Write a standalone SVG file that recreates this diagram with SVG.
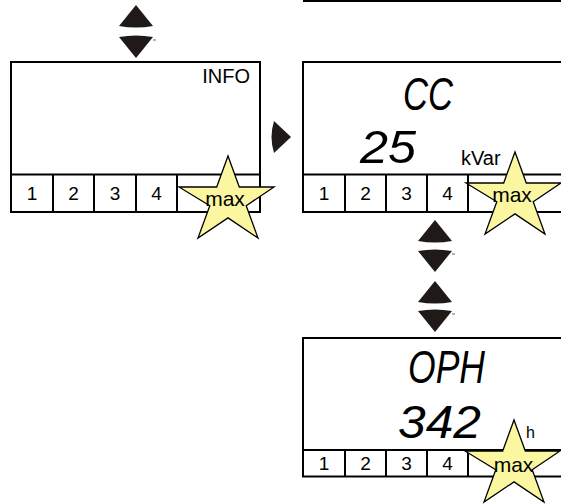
<svg xmlns="http://www.w3.org/2000/svg" xmlns:xlink="http://www.w3.org/1999/xlink" width="561" height="504" viewBox="0 0 561 504">
  <style>
    .frame { fill: #ffffff; stroke: #000000; stroke-width: 2; }
    .rule { stroke: #000000; stroke-width: 2; fill: none; }
    .key { font-family: "Liberation Sans", Arial, sans-serif; font-size: 19px; fill: #000000; text-anchor: middle; }
    .lbl { font-family: "Liberation Sans", Arial, sans-serif; font-size: 20px; fill: #000000; }
    .mx { font-family: "Liberation Sans", Arial, sans-serif; font-size: 21px; fill: #000000; text-anchor: middle; }
    .seg { font-family: "Liberation Sans", Arial, sans-serif; font-style: italic; font-size: 46px; fill: #000000; }
    .star { fill: #fbf7a1; stroke: #000000; stroke-width: 1.3; stroke-linejoin: miter; }
    .arrow { fill: #1f1a17; }
    .tick { stroke: #6b6b6b; stroke-width: 1; }
  </style>
  <defs>
    <!-- five-point star, apex at origin -->
    <polygon id="star" class="star" points="0,0 11.3,31 46,31 18.2,49.7 30,82 0,61.9 -30,82 -18.2,49.7 -49,31 -11.3,31"/>
    <!-- navigation arrow heads, tip at origin -->
    <path id="up" class="arrow" d="M0,0 L17,21 Q0,24 -17,21 Z"/>
    <path id="down" class="arrow" d="M0,0 L17,-21 Q0,-24 -17,-21 Z"/>
  </defs>

  <!-- edge of the previous display, above -->
  <line class="rule" x1="303" y1="1" x2="561" y2="1"/>

  <!-- connectors: navigation arrows -->
  <g id="connectors">
    <use xlink:href="#up" x="136" y="5"/>
    <use xlink:href="#down" x="136" y="58"/>
    <line class="tick" x1="153" y1="40" x2="156" y2="40"/>

    <path class="arrow" d="M291,137 L274,121 Q269,137 274,153 Z"/>

    <use xlink:href="#up" x="435" y="220"/>
    <use xlink:href="#down" x="435" y="272"/>
    <line class="tick" x1="452" y1="254" x2="455" y2="254"/>
    <use xlink:href="#up" x="435" y="281"/>
    <use xlink:href="#down" x="435" y="332"/>
    <line class="tick" x1="452" y1="314" x2="455" y2="314"/>
  </g>

  <!-- INFO display -->
  <g id="info">
    <rect class="frame" x="11" y="62" width="249" height="150"/>
    <line class="rule" x1="11" y1="174.5" x2="260" y2="174.5"/>
    <line class="rule" x1="53" y1="174.5" x2="53" y2="212"/>
    <line class="rule" x1="94" y1="174.5" x2="94" y2="212"/>
    <line class="rule" x1="136" y1="174.5" x2="136" y2="212"/>
    <line class="rule" x1="177" y1="174.5" x2="177" y2="212"/>
    <text class="lbl" x="250" y="83" text-anchor="end">INFO</text>
    <text class="key" x="32" y="200">1</text>
    <text class="key" x="73.5" y="200">2</text>
    <text class="key" x="115" y="200">3</text>
    <text class="key" x="156.5" y="200">4</text>
    <use xlink:href="#star" x="228" y="156"/>
    <text class="mx" x="225" y="206">max</text>
  </g>

  <!-- CC display -->
  <g id="cc">
    <rect class="frame" x="303" y="62" width="262" height="150"/>
    <line class="rule" x1="303" y1="174.5" x2="565" y2="174.5"/>
    <line class="rule" x1="345" y1="174.5" x2="345" y2="212"/>
    <line class="rule" x1="386" y1="174.5" x2="386" y2="212"/>
    <line class="rule" x1="427" y1="174.5" x2="427" y2="212"/>
    <line class="rule" x1="468" y1="174.5" x2="468" y2="212"/>
    <text class="seg" x="403" y="110" textLength="50" lengthAdjust="spacingAndGlyphs">CC</text>
    <text class="seg" x="360" y="163" textLength="56" lengthAdjust="spacingAndGlyphs">25</text>
    <text class="lbl" x="461" y="165">kVar</text>
    <text class="key" x="324" y="200">1</text>
    <text class="key" x="365.5" y="200">2</text>
    <text class="key" x="406.5" y="200">3</text>
    <text class="key" x="447.5" y="200">4</text>
    <use xlink:href="#star" x="515" y="152"/>
    <text class="mx" x="512" y="202">max</text>
  </g>

  <!-- OPH display -->
  <g id="oph">
    <rect class="frame" x="303" y="338" width="262" height="138.5"/>
    <line class="rule" x1="303" y1="450" x2="565" y2="450"/>
    <line class="rule" x1="345" y1="450" x2="345" y2="476.5"/>
    <line class="rule" x1="386" y1="450" x2="386" y2="476.5"/>
    <line class="rule" x1="427" y1="450" x2="427" y2="476.5"/>
    <line class="rule" x1="468" y1="450" x2="468" y2="476.5"/>
    <text class="seg" x="408" y="383" textLength="77" lengthAdjust="spacingAndGlyphs">OPH</text>
    <text class="seg" x="398" y="438" textLength="83" lengthAdjust="spacingAndGlyphs">342</text>
    <text class="lbl" x="526" y="438" style="font-size:16px">h</text>
    <text class="key" x="324" y="470">1</text>
    <text class="key" x="365.5" y="470">2</text>
    <text class="key" x="406.5" y="470">3</text>
    <text class="key" x="447.5" y="470">4</text>
    <use xlink:href="#star" x="514" y="420"/>
    <text class="mx" x="513.5" y="472">max</text>
  </g>
</svg>
